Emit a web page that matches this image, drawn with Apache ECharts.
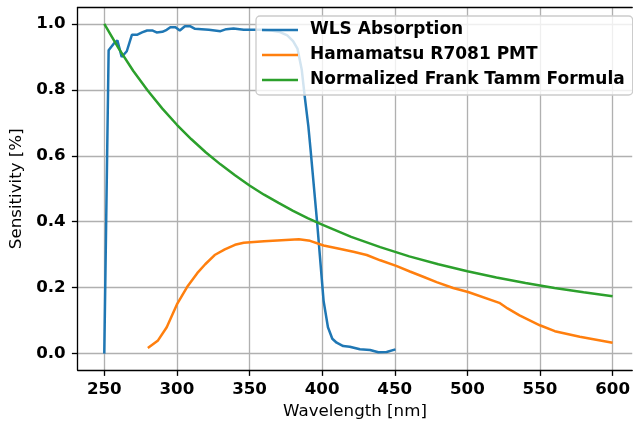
<!DOCTYPE html>
<html>
<head>
<meta charset="utf-8">
<script src="https://cdn.jsdelivr.net/npm/echarts@6/dist/echarts.min.js"></script>
<style>
html,body{margin:0;padding:0;background:#fff;}
#c{width:633px;height:425px;}
</style>
</head>
<body>
<div id="c"></div>
<script>
const xTicks = [250, 300, 350, 400, 450, 500, 550, 600];
const yTicks = [0.0, 0.2, 0.4, 0.6, 0.8, 1.0];

const wlsX = [250, 253, 256.5, 259, 262, 265.5, 269, 272.5, 276, 279.5, 283, 286, 290, 293, 295.5, 299, 302, 305.5, 309, 312.5, 317, 322, 326, 330, 334, 339, 346, 353, 358.5, 365, 371, 376, 380, 383, 386, 388, 390.5, 392, 396.5, 401, 404, 407, 410, 414.5, 419, 426, 433, 438.7, 444.4, 450.5];
const wlsY = [0.0, 0.92, 0.94, 0.95, 0.90, 0.917, 0.967, 0.967, 0.974, 0.98, 0.98, 0.974, 0.976, 0.982, 0.99, 0.99, 0.98, 0.993, 0.993, 0.985, 0.984, 0.982, 0.98, 0.978, 0.984, 0.986, 0.982, 0.982, 0.982, 0.98, 0.975, 0.965, 0.948, 0.925, 0.86, 0.78, 0.69, 0.62, 0.40, 0.16, 0.08, 0.045, 0.033, 0.023, 0.021, 0.013, 0.011, 0.004, 0.005, 0.013];

const pmtX = [280, 287, 293, 300, 307, 314, 319.5, 326, 333, 340, 346, 360, 384, 391.7, 401, 411, 421.5, 430.7, 440, 451, 460.4, 469.6, 478.8, 490.2, 500.5, 522, 527.7, 535.9, 549.9, 560.2, 577.4, 600];
const pmtY = [0.017, 0.04, 0.08, 0.149, 0.202, 0.244, 0.271, 0.299, 0.316, 0.33, 0.336, 0.341, 0.347, 0.342, 0.328, 0.319, 0.309, 0.299, 0.283, 0.266, 0.249, 0.233, 0.217, 0.199, 0.187, 0.154, 0.137, 0.116, 0.086, 0.068, 0.051, 0.033];

const ftX = [250, 260, 270, 280, 290, 300, 310, 320, 330, 340, 350, 360, 370, 380, 390, 400, 420, 440, 460, 480, 500, 520, 540, 560, 580, 600];
const ftY = [1.0, 0.925, 0.857, 0.797, 0.743, 0.694, 0.650, 0.610, 0.574, 0.541, 0.510, 0.482, 0.457, 0.433, 0.411, 0.391, 0.354, 0.323, 0.295, 0.271, 0.250, 0.231, 0.214, 0.199, 0.186, 0.174];

const names = ['WLS Absorption', 'Hamamatsu R7081 PMT', 'Normalized Frank Tamm Formula'];
const colors = ['#1f77b4', '#ff7f0e', '#2ca02c'];

function pairs(xs, ys) { return xs.map((x, i) => [x, ys[i]]); }

const FONT = 'DejaVu Sans';
const FS = 16.67;
const XMIN = 231.7, XMAX = 613.5, YMIN = -0.05, YMAX = 1.05;
const spine = {color: '#000', width: 1.33};

const chart = echarts.init(document.getElementById('c'), null, {renderer: 'canvas'});
chart.setOption({
  animation: false,
  backgroundColor: '#fff',
  grid: {left: 77.7, top: 7.4, right: 0, height: 364.9},
  xAxis: [{
    type: 'value', min: XMIN, max: XMAX, position: 'bottom',
    name: 'Wavelength [nm]', nameLocation: 'middle', nameGap: 28,
    nameTextStyle: {fontFamily: FONT, fontSize: FS, color: '#000'},
    axisLine: {show: true, onZero: false, lineStyle: spine},
    axisTick: {show: true, customValues: xTicks, length: 5.8, lineStyle: spine},
    axisLabel: {customValues: xTicks, margin: 11, fontFamily: FONT, fontSize: FS, fontWeight: 'bold', color: '#000'},
    splitLine: {show: true, customValues: xTicks, lineStyle: {color: '#b0b0b0', width: 1.33}}
  }, {
    type: 'value', min: XMIN, max: XMAX, position: 'top',
    axisLine: {show: true, onZero: false, lineStyle: spine},
    axisTick: {show: false}, axisLabel: {show: false}, splitLine: {show: false}
  }],
  yAxis: {
    type: 'value', min: YMIN, max: YMAX,
    name: 'Sensitivity [%]', nameLocation: 'middle', nameGap: 45,
    nameTextStyle: {fontFamily: FONT, fontSize: FS, color: '#000'},
    axisLine: {show: true, onZero: false, lineStyle: spine},
    axisTick: {show: true, customValues: yTicks, length: 5.8, lineStyle: spine},
    axisLabel: {customValues: yTicks, margin: 12, fontFamily: FONT, fontSize: FS, fontWeight: 'bold', color: '#000',
      formatter: v => v.toFixed(1)},
    splitLine: {show: true, customValues: yTicks, lineStyle: {color: '#b0b0b0', width: 1.33}}
  },
  legend: {
    orient: 'vertical', left: 256, top: 16,
    padding: [4, 8, 5, 6],
    itemWidth: 36, itemHeight: 2.5, itemGap: 5,
    icon: 'rect',
    backgroundColor: 'rgba(255,255,255,0.8)', borderColor: '#cccccc', borderWidth: 1.33, borderRadius: 4,
    textStyle: {fontFamily: FONT, fontSize: 17, fontWeight: 'bold', color: '#000', lineHeight: 20, padding: [0, 0, 0, 7]},
    data: names
  },
  series: [
    {name: names[0], type: 'line', data: pairs(wlsX, wlsY)},
    {name: names[1], type: 'line', data: pairs(pmtX, pmtY)},
    {name: names[2], type: 'line', data: pairs(ftX, ftY)}
  ].map((s, i) => Object.assign(s, {
    showSymbol: false, symbol: 'none', clip: true,
    color: colors[i],
    lineStyle: {color: colors[i], width: 2.5},
    itemStyle: {color: colors[i]}
  }))
});
</script>
</body>
</html>
